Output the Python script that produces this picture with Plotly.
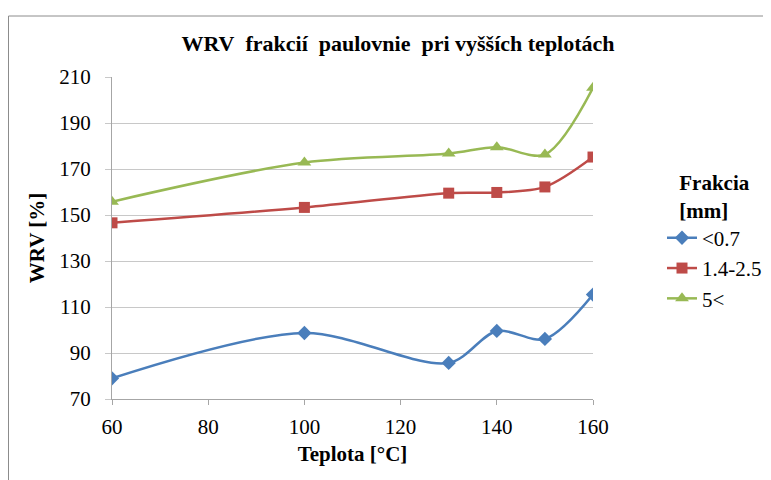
import plotly.graph_objects as go

temps = [60, 100, 130, 140, 150, 160]
series_names = ["<0.7", "1.4-2.5", "5<"]
wrv_small = [79.0, 98.7, 85.7, 99.6, 96.1, 115.4]
wrv_mid = [146.6, 153.3, 159.5, 159.8, 162.2, 175.2]
wrv_large = [155.8, 172.8, 176.7, 179.5, 176.3, 205.3]
x_ticks = [60, 80, 100, 120, 140, 160]
y_ticks = [70, 90, 110, 130, 150, 170, 190, 210]

colors = ["#4A7EBB", "#BE4B48", "#98B954"]
symbols = ["diamond", "square", "triangle-up"]
sizes = [11, 11, 12]
FONT = "Times New Roman"
FS = 21

fig = go.Figure()
for name, vals, c, s, sz in zip(series_names, [wrv_small, wrv_mid, wrv_large], colors, symbols, sizes):
    fig.add_trace(go.Scatter(
        x=temps, y=vals, name=name, mode="lines+markers",
        line=dict(color=c, width=2.5, shape="spline", smoothing=0.9),
        marker=dict(symbol=s, size=sz, color=c),
    ))

OFF = 8  # browser body margin
W, H = 771 - OFF, 480 - OFF
L, T = 112 - OFF, 77 - OFF
R = W - (593 - OFF)
B = H - (399 - OFF)
pw, ph = W - L - R, H - T - B

def px(xpage):
    return (xpage - OFF - L) / pw

def py(ypage):
    return (H - B - (ypage - OFF)) / ph

fig.update_layout(
    width=W, height=H,
    margin=dict(l=L, r=R, t=T, b=B, autoexpand=False),
    paper_bgcolor="white", plot_bgcolor="white",
    font=dict(family=FONT, size=FS, color="black"),
    title=dict(text="<b>WRV\u00a0 frakcií\u00a0 paulovnie\u00a0 pri vyšších teplotách</b>",
               x=(398 - OFF) / W, xanchor="center", y=1 - (43 - OFF) / H, yanchor="middle",
               font=dict(family=FONT, size=22, color="black")),
    legend=dict(
        x=px(662), xanchor="left", y=py(163), yanchor="top",
        title=dict(text="<b>Frakcia</b><br><b>[mm]</b>", side="top center",
                   font=dict(family=FONT, size=FS, color="black")),
        font=dict(family=FONT, size=FS, color="black"), tracegroupgap=0, itemwidth=30,
        bgcolor="rgba(0,0,0,0)",
    ),
    xaxis=dict(
        range=[60, 160], tickvals=x_ticks, showgrid=False, zeroline=False,
        showline=True, linecolor="#A6A6A6", linewidth=1,
        ticks="outside", ticklen=5, tickcolor="#A6A6A6",
        tickfont=dict(family=FONT, size=FS, color="black"),
        title=dict(text="<b>Teplota [°C]</b>", standoff=8, font=dict(family=FONT, size=FS, color="black")),
        ticklabelstandoff=4,
    ),
    yaxis=dict(
        range=[70, 210], tickvals=y_ticks, showgrid=True, gridcolor="#C8C8C8",
        gridwidth=1, zeroline=False,
        showline=True, linecolor="#A6A6A6", linewidth=1,
        ticks="outside", ticklen=6, tickcolor="#C8C8C8",
        tickfont=dict(family=FONT, size=FS, color="black"),
        title=dict(text="<b>WRV [%]</b>", standoff=8, font=dict(family=FONT, size=FS, color="black")),
        ticklabelstandoff=10,
    ),
    showlegend=True,
)

fig.add_shape(type="rect", xref="paper", yref="paper",
              x0=px(8.5), x1=1.6, y0=-0.6, y1=py(16),
              line=dict(color="#8C8C8C", width=1), fillcolor="rgba(0,0,0,0)", layer="below")

fig.write_html("out.html")
